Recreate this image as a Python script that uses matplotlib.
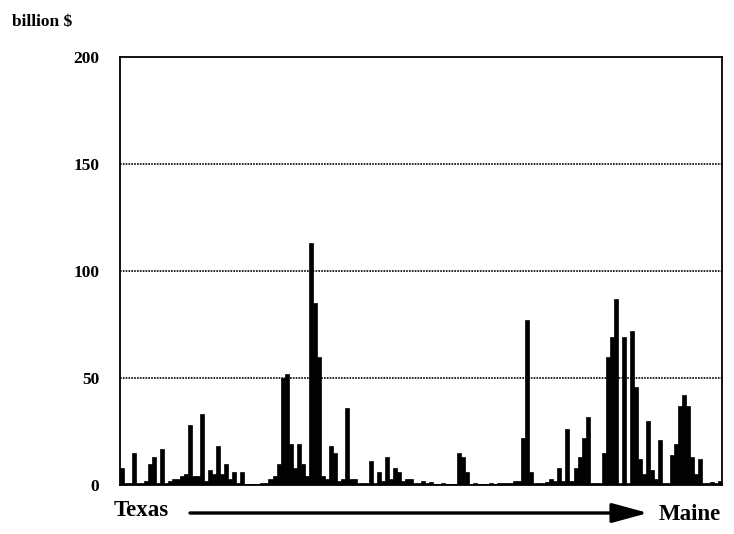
import matplotlib
matplotlib.use("Agg")
import matplotlib.pyplot as plt
import numpy as np

# Bar values (billion $), ordered from Texas to Maine
values = [
    8, 1, 1, 15, 1, 1, 2, 10, 13, 1,
    17, 1, 2, 3, 3, 4, 5, 28, 4, 4,
    33, 2, 7, 5, 18, 5, 10, 3, 6, 1,
    6, 0.5, 0.5, 0.5, 0.5, 0.8, 1, 3, 4, 10,
    50, 52, 19, 8, 19, 10, 4, 113, 85, 60,
    4, 3, 18, 15, 2, 3, 36, 3, 3, 1,
    1, 1, 11, 1, 6, 2, 13, 3, 8, 6,
    2, 3, 3, 1, 1, 2, 1, 1.5, 0.5, 0.5,
    0.8, 0.5, 0.5, 0.5, 15, 13, 6, 0.5, 1, 0.5,
    0.5, 0.5, 0.8, 0.5, 1, 1, 1, 1, 2, 2,
    22, 77, 6, 1, 1, 1, 1.5, 3, 2, 8,
    2, 26, 2, 8, 13, 22, 32, 1, 1, 1,
    15, 60, 69, 87, 1, 69, 1, 72, 46, 12,
    5, 30, 7, 3, 21, 1, 1, 14, 19, 37,
    42, 37, 13, 5, 12, 1, 1, 1.5, 1, 2,
]
yticks = [0, 50, 100, 150, 200]
ylabel = "billion $"
start_label = "Texas"
end_label = "Maine"

serif = ["Liberation Serif", "DejaVu Serif"]
plt.rcParams["font.family"] = serif

fig = plt.figure(figsize=(7.34, 5.34), dpi=100)
ax = fig.add_axes([120 / 734, 1 - 485 / 534, 602 / 734, 428 / 534])

x = np.arange(len(values))
ax.bar(x, values, width=1.0, color="black", edgecolor="black", linewidth=0.5, zorder=3)
ax.set_xlim(-0.5, len(values) - 0.5)
ax.set_ylim(0, 200)
ax.set_yticks(yticks)
ax.set_yticklabels([str(t) for t in yticks], fontsize=12.5, fontweight="bold")
ax.tick_params(axis="y", length=0, pad=15)
ax.set_xticks([])
for t in yticks[1:-1]:
    ax.axhline(t, color="black", linestyle=(0, (1, 0.7)), linewidth=1.2, zorder=1)
for s in ["left", "right", "top", "bottom"]:
    ax.spines[s].set_linewidth(1.3)

fig.text(12 / 734, 1 - 22 / 534, ylabel, fontsize=12.5, fontweight="bold",
         ha="left", va="center")
fig.text(114 / 734, 1 - 511 / 534, start_label, fontsize=16.5, fontweight="bold",
         ha="left", va="center")
fig.text(721 / 734, 1 - 514 / 534, end_label, fontsize=16.5, fontweight="bold",
         ha="right", va="center")
fig.add_artist(matplotlib.patches.FancyArrowPatch(
    (190 / 734, 1 - 513 / 534), (648 / 734, 1 - 513 / 534),
    transform=fig.transFigure, arrowstyle="-|>,head_length=11,head_width=3",
    color="black", linewidth=2.4, mutation_scale=2, shrinkA=0, shrinkB=0))

fig.savefig("out.png", dpi=100)
